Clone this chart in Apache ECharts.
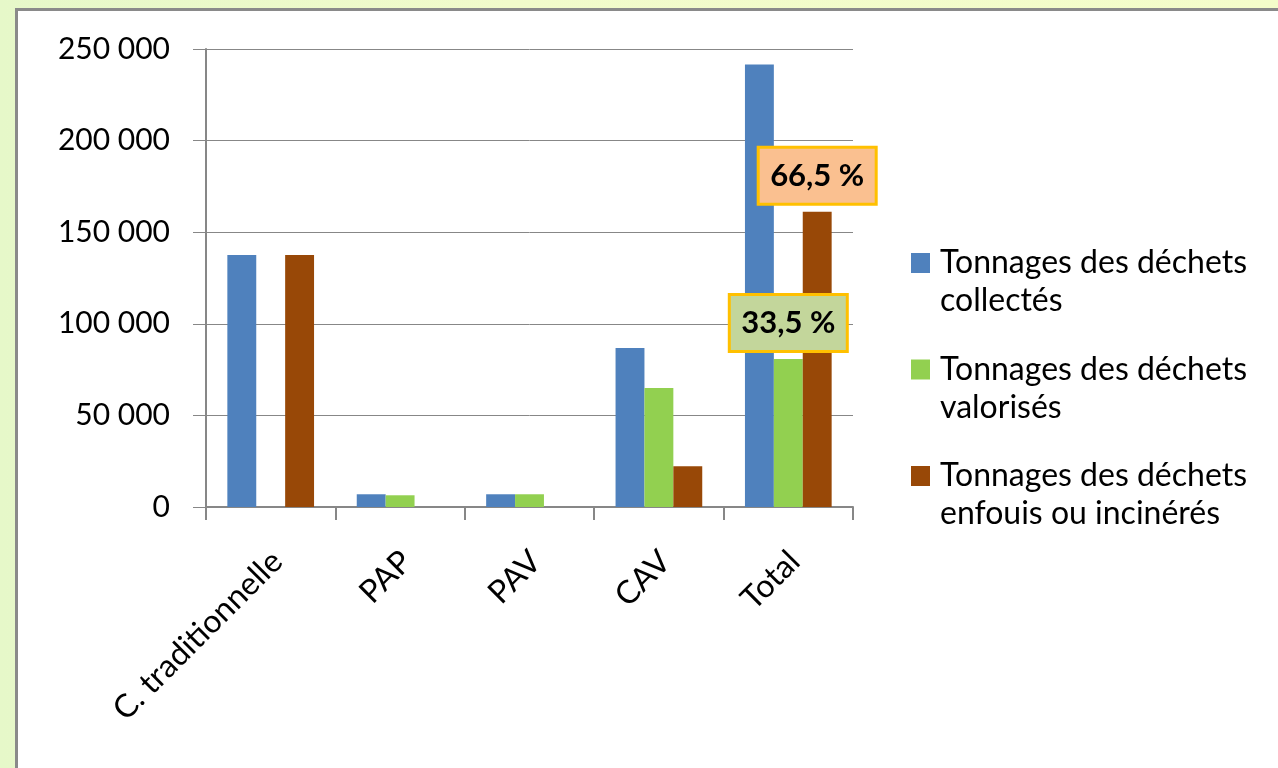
<!DOCTYPE html>
<html>
<head>
<meta charset="utf-8">
<script src="https://cdn.jsdelivr.net/npm/echarts@6/dist/echarts.min.js"></script>
<style>
  html, body {
    margin: 0;
    padding: 0;
    width: 1278px;
    height: 768px;
    overflow: hidden;
    background: linear-gradient(to right, #e6f8c9, #f1fbcb 40%, #f4fdca);
  }
  #frame {
    position: absolute;
    left: 15px;
    top: 8px;
    right: 0;
    bottom: 0;
    background: #fff;
    border-left: 3px solid #8a8a8a;
    border-top: 3px solid #8a8a8a;
  }
  #chart {
    position: absolute;
    left: 0;
    top: 0;
    width: 1278px;
    height: 768px;
  }
</style>
</head>
<body>
<div id="frame"></div>
<div id="chart"></div>
<script>
// categories (x axis)
var categories = ['C. traditionnelle', 'PAP', 'PAV', 'CAV', 'Total'];

// tonnages
var collected  = [137600, 6950, 6950, 86800, 241600];
var recovered  = [0, 6400, 6950, 64900, 80800];
var landfilled = [137600, 0, 0, 22250, 161200];

var seriesNames = [
  'Tonnages des déchets\ncollectés',
  'Tonnages des déchets\nvalorisés',
  'Tonnages des déchets\nenfouis ou incinérés'
];
var colors = ['#4f81bd', '#92d050', '#984807'];

// share callouts on the Total group
var recoveredShare = '33,5 %';
var landfilledShare = '66,5 %';

var fontFamily = 'Lato, "Open Sans", sans-serif';

function thousands(v) {
  return String(v).replace(/\B(?=(\d{3})+(?!\d))/g, ' ');
}

function calloutLabel(text, fill) {
  return {
    show: true,
    position: 'top',
    distance: 9,
    formatter: text,
    fontFamily: fontFamily,
    fontWeight: 'bold',
    fontSize: 31,
    color: '#000',
    backgroundColor: fill,
    borderColor: '#ffc000',
    borderWidth: 3,
    width: 115,
    align: 'center',
    lineHeight: 34,
    padding: [10, 0, 10, 0]
  };
}

function withCallout(values, text, fill) {
  var last = categories.length - 1;
  return values.map(function (v, i) {
    if (i === last) return { value: v, label: calloutLabel(text, fill) };
    return v;
  });
}

var chart = echarts.init(document.getElementById('chart'));

var option = {
  animation: false,
  backgroundColor: 'transparent',
  textStyle: { fontFamily: fontFamily },
  grid: {
    left: 206,
    top: 49,
    right: 425,
    bottom: 261
  },
  legend: {
    orient: 'vertical',
    left: 911,
    top: 206,
    padding: 0,
    itemGap: -7.5,
    itemWidth: 19,
    itemHeight: 20,
    icon: 'rect',
    selectedMode: false,
    data: seriesNames,
    // empty first line so the marker sits beside the first text line
    formatter: function (name) { return ' \n' + name; },
    textStyle: {
      fontFamily: fontFamily,
      fontSize: 32,
      lineHeight: 38,
      color: '#000',
      padding: [0, 0, 0, 5]
    }
  },
  xAxis: {
    type: 'category',
    data: categories,
    axisLine: { lineStyle: { color: '#878787', width: 2 } },
    axisTick: { show: true, length: 13, lineStyle: { color: '#878787', width: 2 } },
    axisLabel: {
      rotate: 45,
      margin: 43,
      align: 'right',
      verticalAlign: 'top',
      lineHeight: 18,
      interval: 0,
      fontFamily: fontFamily,
      fontSize: 32,
      color: '#000'
    }
  },
  yAxis: {
    type: 'value',
    min: 0,
    max: 250000,
    interval: 50000,
    axisLine: { show: true, lineStyle: { color: '#878787', width: 2 } },
    axisTick: { show: true, length: 13, lineStyle: { color: '#878787', width: 1 } },
    splitLine: { lineStyle: { color: '#878787', width: 1 } },
    axisLabel: {
      margin: 36,
      fontFamily: fontFamily,
      fontSize: 30,
      color: '#000',
      formatter: thousands
    }
  },
  series: [
    {
      name: seriesNames[0],
      type: 'bar',
      data: collected,
      itemStyle: { color: colors[0] },
      barGap: '0%',
      barCategoryGap: '33%'
    },
    {
      name: seriesNames[1],
      type: 'bar',
      data: withCallout(recovered, recoveredShare, '#c3d69b'),
      itemStyle: { color: colors[1] }
    },
    {
      name: seriesNames[2],
      type: 'bar',
      data: withCallout(landfilled, landfilledShare, '#fac090'),
      itemStyle: { color: colors[2] }
    }
  ]
};

chart.setOption(option);
</script>
</body>
</html>
